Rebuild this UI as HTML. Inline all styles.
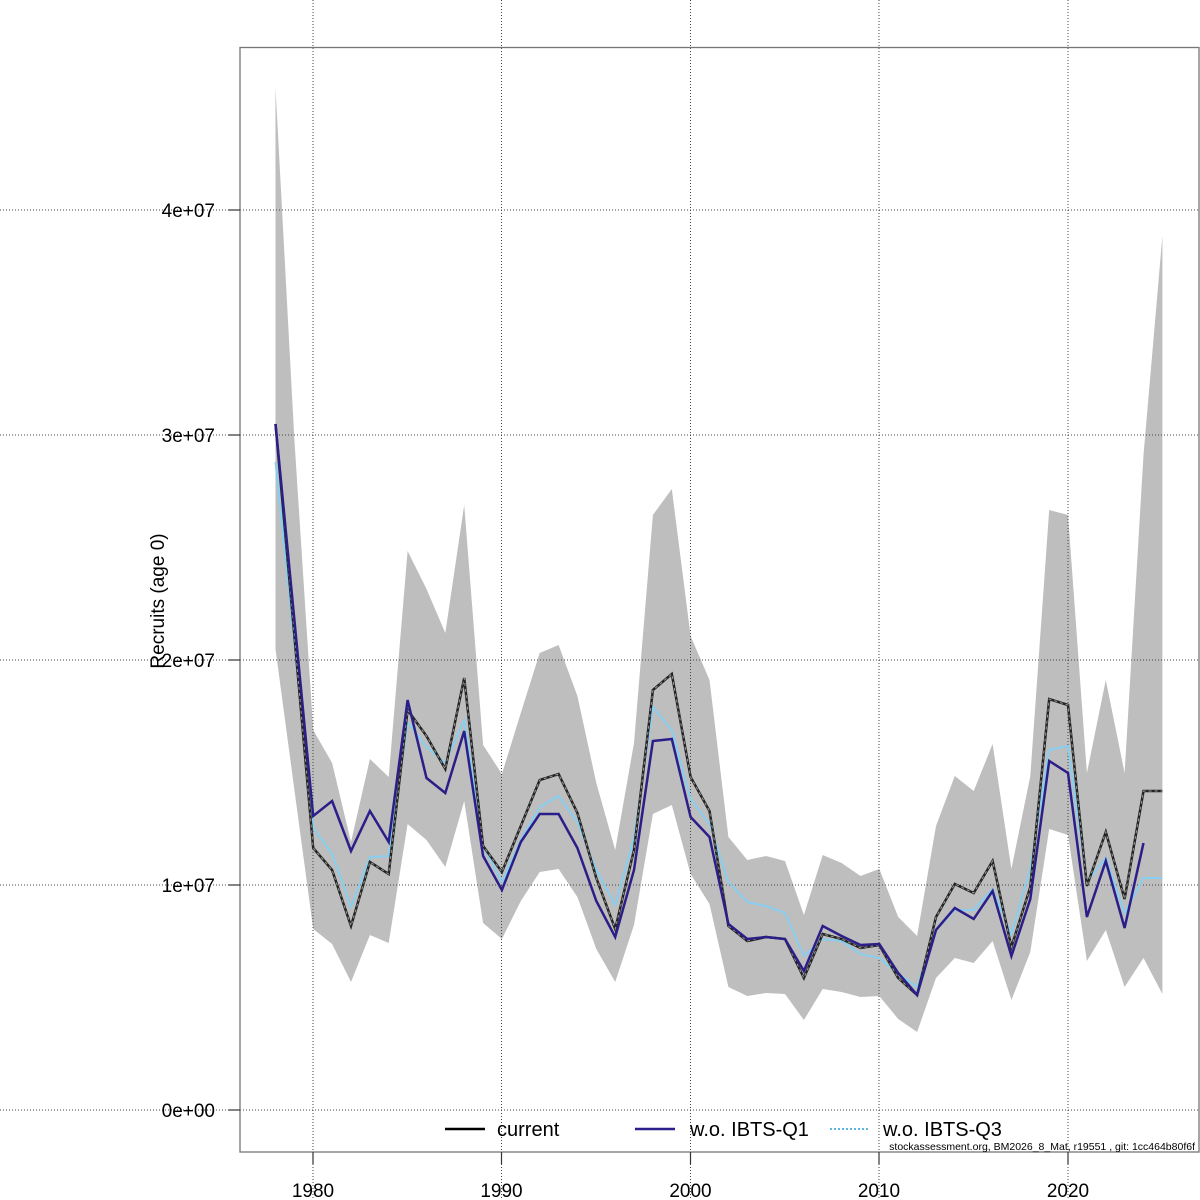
<!DOCTYPE html>
<html><head><meta charset="utf-8"><style>
html,body{margin:0;padding:0;background:#fff;}
svg{display:block;font-family:"Liberation Sans",sans-serif;}
</style></head><body>
<svg width="1200" height="1200" viewBox="0 0 1200 1200" xmlns="http://www.w3.org/2000/svg">
<rect width="1200" height="1200" fill="#fff"/>
<polygon fill="#bebebe" points="275.5,88 294.4,440 313.2,730 332.1,763 351.0,842 369.9,759 388.7,777 407.6,551 426.5,589 445.3,633 464.2,505 483.1,745 501.9,774 520.8,713 539.7,653 558.6,645 577.4,696 596.3,783 615.2,850 634.0,743 652.9,515 671.8,489 690.6,636 709.5,680 728.4,837 747.3,860 766.1,856 785.0,861 803.9,915 822.7,855 841.6,863 860.5,876 879.3,869 898.2,917 917.1,936 936.0,826 954.8,776 973.7,791 992.6,744 1011.4,869 1030.3,776 1049.2,510 1068.0,515 1086.9,773 1105.8,680 1124.6,773 1143.5,455 1162.4,236 1162.4,994 1143.5,958 1124.6,987 1105.8,930 1086.9,961 1068.0,835 1049.2,829 1030.3,952 1011.4,1000 992.6,941 973.7,963 954.8,958 936.0,978 917.1,1032 898.2,1019 879.3,996 860.5,997 841.6,992 822.7,989 803.9,1020 785.0,994 766.1,993 747.3,996 728.4,987 709.5,904 690.6,874 671.8,805 652.9,814 634.0,925 615.2,982 596.3,949 577.4,897 558.6,869 539.7,872 520.8,901 501.9,939 483.1,923 464.2,801 445.3,867 426.5,840 407.6,824 388.7,943 369.9,935 351.0,982 332.1,944 313.2,929 294.4,790 275.5,649"/>
<g stroke="#444" stroke-width="1" stroke-dasharray="1,2">
<line x1="0" y1="1110" x2="1200" y2="1110"/><line x1="0" y1="885" x2="1200" y2="885"/><line x1="0" y1="660" x2="1200" y2="660"/><line x1="0" y1="435" x2="1200" y2="435"/><line x1="0" y1="210" x2="1200" y2="210"/>
<line x1="313" y1="0" x2="313" y2="1200"/><line x1="501.5" y1="0" x2="501.5" y2="1200"/><line x1="690.5" y1="0" x2="690.5" y2="1200"/><line x1="879" y1="0" x2="879" y2="1200"/><line x1="1068" y1="0" x2="1068" y2="1200"/>
</g>
<polyline fill="none" stroke="#87cef0" stroke-width="2" points="275.5,462 294.4,645 313.2,828 332.1,854 351.0,907 369.9,857 388.7,856 407.6,722 426.5,747 445.3,763 464.2,720 483.1,846 501.9,882 520.8,840 539.7,807 558.6,796 577.4,822 596.3,870 615.2,905 634.0,838 652.9,707 671.8,730 690.6,799 709.5,824 728.4,882 747.3,902 766.1,906 785.0,913 803.9,956 822.7,939 841.6,941 860.5,954 879.3,958 898.2,974 917.1,987 936.0,930 954.8,910 973.7,910 992.6,889 1011.4,934 1030.3,869 1049.2,750 1068.0,746 1086.9,882 1105.8,858 1124.6,913 1143.5,878 1162.4,878"/>
<polyline fill="none" stroke="#222" stroke-width="2.5" points="275.5,424 294.4,636 313.2,848 332.1,870 351.0,926 369.9,862 388.7,874 407.6,710 426.5,736 445.3,769 464.2,678 483.1,846 501.9,872 520.8,826 539.7,780 558.6,774 577.4,813 596.3,878 615.2,929 634.0,850 652.9,690 671.8,674 690.6,777 709.5,811 728.4,926 747.3,941 766.1,937 785.0,939 803.9,978 822.7,934 841.6,939 860.5,948 879.3,945 898.2,978 917.1,995 936.0,917 954.8,884 973.7,893 992.6,861 1011.4,947 1030.3,887 1049.2,699 1068.0,705 1086.9,886 1105.8,832 1124.6,899 1143.5,791 1162.4,791"/>
<polyline fill="none" stroke="#999" stroke-width="1" stroke-dasharray="3,3" points="275.5,424 294.4,636 313.2,848 332.1,870 351.0,926 369.9,862 388.7,874 407.6,710 426.5,736 445.3,769 464.2,678 483.1,846 501.9,872 520.8,826 539.7,780 558.6,774 577.4,813 596.3,878 615.2,929 634.0,850 652.9,690 671.8,674 690.6,777 709.5,811 728.4,926 747.3,941 766.1,937 785.0,939 803.9,978 822.7,934 841.6,939 860.5,948 879.3,945 898.2,978 917.1,995 936.0,917 954.8,884 973.7,893 992.6,861 1011.4,947 1030.3,887 1049.2,699 1068.0,705 1086.9,886 1105.8,832 1124.6,899 1143.5,791 1162.4,791"/>
<polyline fill="none" stroke="#2b1e88" stroke-width="2.5" points="275.5,424 294.4,620 313.2,816 332.1,801 351.0,851 369.9,811 388.7,842 407.6,700 426.5,778 445.3,793 464.2,731 483.1,856 501.9,890 520.8,842 539.7,814 558.6,814 577.4,848 596.3,901 615.2,937 634.0,870 652.9,741 671.8,739 690.6,817 709.5,837 728.4,924 747.3,939 766.1,937 785.0,939 803.9,971 822.7,926 841.6,936 860.5,945 879.3,944 898.2,973 917.1,995 936.0,930 954.8,908 973.7,919 992.6,891 1011.4,956 1030.3,899 1049.2,761 1068.0,773 1086.9,917 1105.8,861 1124.6,928 1143.5,843"/>
<rect x="240" y="47.5" width="959" height="1104.5" fill="none" stroke="#777" stroke-width="1.3"/>
<g stroke="#333" stroke-width="1.2">
<line x1="228" y1="1110" x2="240" y2="1110"/><line x1="228" y1="885" x2="240" y2="885"/><line x1="228" y1="660" x2="240" y2="660"/><line x1="228" y1="435" x2="240" y2="435"/><line x1="228" y1="210" x2="240" y2="210"/>
<line x1="313" y1="1152" x2="313" y2="1164"/><line x1="501.5" y1="1152" x2="501.5" y2="1164"/><line x1="690.5" y1="1152" x2="690.5" y2="1164"/><line x1="879" y1="1152" x2="879" y2="1164"/><line x1="1068" y1="1152" x2="1068" y2="1164"/>
</g>
<g font-size="19" fill="#000" text-anchor="end">
<text x="215" y="1117">0e+00</text><text x="215" y="892">1e+07</text><text x="215" y="667">2e+07</text><text x="215" y="442">3e+07</text><text x="215" y="217">4e+07</text>
</g>
<g font-size="19" fill="#000" text-anchor="middle">
<text x="313" y="1197">1980</text><text x="501.5" y="1197">1990</text><text x="690.5" y="1197">2000</text><text x="879" y="1197">2010</text><text x="1068" y="1197">2020</text>
</g>
<text x="0" y="0" font-size="19" text-anchor="middle" transform="translate(164,601) rotate(-90)">Recruits (age 0)</text>
<line x1="445" y1="1129" x2="485" y2="1129" stroke="#000" stroke-width="2.5"/>
<line x1="635" y1="1129" x2="675" y2="1129" stroke="#2b1e88" stroke-width="2.5"/>
<line x1="830" y1="1129" x2="870" y2="1129" stroke="#5bb8e0" stroke-width="2" stroke-dasharray="2,2"/>
<g font-size="20" fill="#000">
<text x="497" y="1136">current</text><text x="690" y="1136">w.o. IBTS-Q1</text><text x="883" y="1136">w.o. IBTS-Q3</text>
</g>
<text x="1195" y="1150" font-size="10.5" text-anchor="end" fill="#000">stockassessment.org, BM2026_8_Mat, r19551 , git: 1cc464b80f6f</text>
</svg>
</body></html>
